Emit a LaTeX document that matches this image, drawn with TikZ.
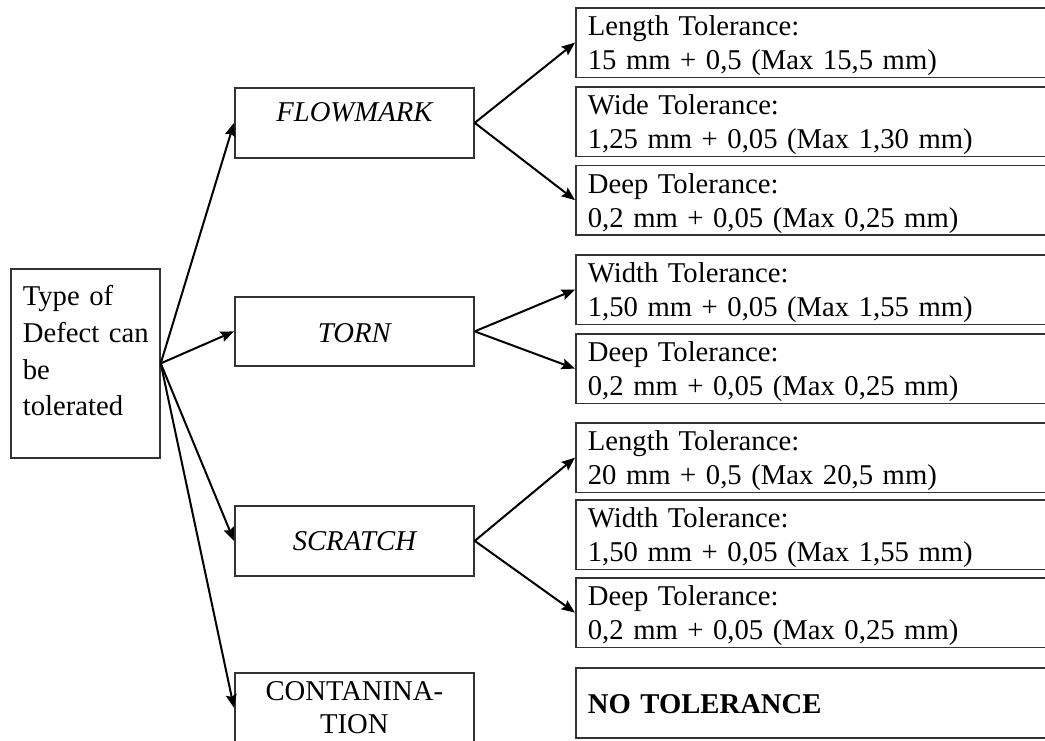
\documentclass[tikz,border=0pt]{standalone}
\usepackage{fontspec}
\setmainfont{Liberation Serif}
\usetikzlibrary{arrows.meta}
\newlength{\px}
\setlength{\px}{0.75pt}
\begin{document}
\begin{tikzpicture}[x=0.75pt, y=-0.75pt,
  box/.style={draw=black!80, line width=1.3pt, inner ysep=0pt, inner xsep=12\px,
    font=\fontsize{21.5pt}{25.5pt}\selectfont},
  tolbox/.style={box, anchor=north west, align=left, text width=451\px,
    text height=28\px, text depth=41.5\px},
  midbox/.style={box, anchor=north west, align=center, text width=215\px},
  arr/.style={line width=1.5pt, -{Stealth[length=10pt, width=8pt, inset=1.5pt]}}
]
\useasboundingbox (0,0) rectangle (1045,740);
\begin{scope}
\clip (0,0) rectangle (1045,740);
% root
\node[box, anchor=north west, align=left, text width=125\px,
  text height=37\px, text depth=152\px,
  font=\fontsize{21.5pt}{27.5pt}\selectfont] (root) at (10,268)
  {Type of\\\mbox{Defect can}\\be\\tolerated};
% middle level
\node[midbox, text height=34\px, text depth=36\px, font=\fontsize{21.5pt}{25.5pt}\selectfont\itshape] (fm) at (234,87) {FLOWMARK};
\node[midbox, text height=46\px, text depth=23\px, font=\fontsize{21.5pt}{25.5pt}\selectfont\itshape] (torn) at (234,296) {TORN};
\node[midbox, text height=45\px, text depth=25\px, font=\fontsize{21.5pt}{25.5pt}\selectfont\itshape] (scr) at (234,505) {SCRATCH};
\node[midbox, text height=28\px, text depth=42\px, font=\fontsize{21.5pt}{24.75pt}\selectfont] (con) at (234,672) {CONTANINA-\\TION};
% tolerance boxes
\node[tolbox] (t1) at (575,7) {Length Tolerance:\\15 mm + 0,5 (Max 15,5 mm)};
\node[tolbox] (t2) at (575,86) {Wide Tolerance:\\1,25 mm + 0,05 (Max 1,30 mm)};
\node[tolbox] (t3) at (575,164.5) {Deep Tolerance:\\0,2 mm + 0,05 (Max 0,25 mm)};
\node[tolbox] (t4) at (575,254) {Width Tolerance:\\1,50 mm + 0,05 (Max 1,55 mm)};
\node[tolbox] (t5) at (575,333) {Deep Tolerance:\\0,2 mm + 0,05 (Max 0,25 mm)};
\node[tolbox] (t6) at (575,422) {Length Tolerance:\\20 mm + 0,5 (Max 20,5 mm)};
\node[tolbox] (t7) at (575,499) {Width Tolerance:\\1,50 mm + 0,05 (Max 1,55 mm)};
\node[tolbox] (t8) at (575,577) {Deep Tolerance:\\0,2 mm + 0,05 (Max 0,25 mm)};
\node[tolbox, text height=46\px, text depth=24\px, font=\fontsize{21.5pt}{25.5pt}\selectfont\bfseries] (nt) at (575,667) {NO TOLERANCE};
\end{scope}
% connectors
\draw[arr] (root.east) -- (fm.west);
\draw[arr] (root.east) -- (torn.west);
\draw[arr] (root.east) -- (scr.west);
\draw[arr] (root.east) -- (con.west);
\draw[arr] (fm.east) -- (t1.west);
\draw[arr] (fm.east) -- (t3.west);
\draw[arr] (torn.east) -- (t4.west);
\draw[arr] (torn.east) -- (t5.west);
\draw[arr] (scr.east) -- (t6.west);
\draw[arr] (scr.east) -- (t8.west);
\end{tikzpicture}
\end{document}
